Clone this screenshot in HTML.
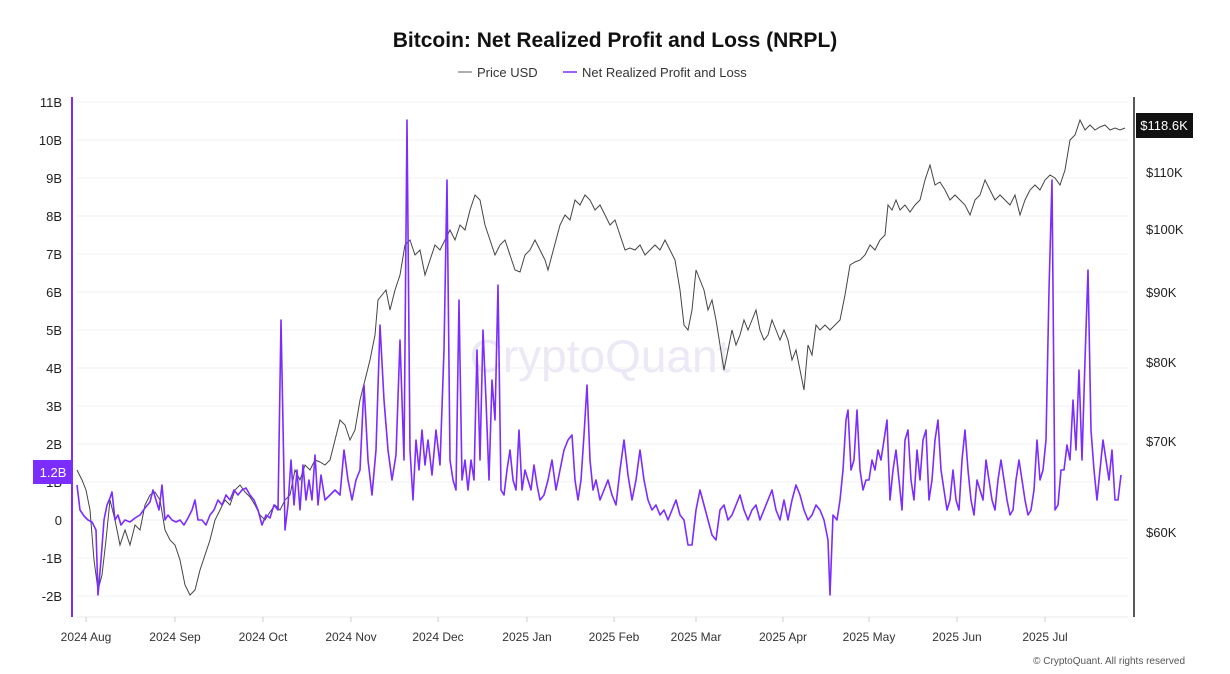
<!DOCTYPE html>
<html><head><meta charset="utf-8"><style>
body{margin:0;background:#fff;font-family:"Liberation Sans",sans-serif;}
svg{display:block}
</style></head><body>
<svg width="1230" height="674" viewBox="0 0 1230 674" font-family="Liberation Sans, sans-serif">
<rect width="1230" height="674" fill="#fff"/>
<text x="615" y="47" text-anchor="middle" font-size="21" font-weight="bold" fill="#111">Bitcoin: Net Realized Profit and Loss (NRPL)</text>
<line x1="458" y1="72" x2="472" y2="72" stroke="#777" stroke-width="1.2"/>
<text x="477" y="77" font-size="13" fill="#333">Price USD</text>
<line x1="563" y1="72" x2="577" y2="72" stroke="#7b2cff" stroke-width="1.5"/>
<text x="582" y="77" font-size="13" fill="#333">Net Realized Profit and Loss</text>
<g stroke="#f2f2f5" stroke-width="1">
<line x1="76" y1="102" x2="1128" y2="102"/><line x1="76" y1="140" x2="1128" y2="140"/><line x1="76" y1="178" x2="1128" y2="178"/><line x1="76" y1="216" x2="1128" y2="216"/><line x1="76" y1="254" x2="1128" y2="254"/><line x1="76" y1="292" x2="1128" y2="292"/><line x1="76" y1="330" x2="1128" y2="330"/><line x1="76" y1="368" x2="1128" y2="368"/><line x1="76" y1="406" x2="1128" y2="406"/><line x1="76" y1="444" x2="1128" y2="444"/><line x1="76" y1="482" x2="1128" y2="482"/><line x1="76" y1="520" x2="1128" y2="520"/><line x1="76" y1="558" x2="1128" y2="558"/><line x1="76" y1="596" x2="1128" y2="596"/>
</g>
<line x1="76" y1="617" x2="1128" y2="617" stroke="#e8e8ee"/>
<g font-size="13" fill="#222" text-anchor="end">
<text x="62" y="107">11B</text><text x="62" y="145">10B</text><text x="62" y="183">9B</text><text x="62" y="221">8B</text><text x="62" y="259">7B</text><text x="62" y="297">6B</text><text x="62" y="335">5B</text><text x="62" y="373">4B</text><text x="62" y="411">3B</text><text x="62" y="449">2B</text><text x="62" y="487">1B</text><text x="62" y="525">0</text><text x="62" y="563">-1B</text><text x="62" y="601">-2B</text>
</g>
<rect x="33" y="460" width="39" height="24" fill="#7b2cff"/>
<text x="53" y="477" text-anchor="middle" font-size="13" fill="#fff">1.2B</text>
<line x1="72" y1="97" x2="72" y2="617" stroke="#7b2cff" stroke-width="2"/>
<line x1="1134" y1="97" x2="1134" y2="617" stroke="#222" stroke-width="1.5"/>
<g font-size="13" fill="#222">
<text x="1146" y="177">$110K</text><text x="1146" y="234">$100K</text><text x="1146" y="297">$90K</text><text x="1146" y="367">$80K</text><text x="1146" y="446">$70K</text><text x="1146" y="537">$60K</text>
</g>
<rect x="1136" y="113" width="57" height="25" fill="#111"/>
<text x="1164" y="130" text-anchor="middle" font-size="13" fill="#fff">$118.6K</text>
<text x="600" y="372" text-anchor="middle" font-size="46" fill="#ece8f5">CryptoQuant</text>
<g font-size="12" fill="#333" text-anchor="middle">
<text x="86" y="641">2024 Aug</text><text x="175" y="641">2024 Sep</text><text x="263" y="641">2024 Oct</text><text x="351" y="641">2024 Nov</text><text x="438" y="641">2024 Dec</text><text x="527" y="641">2025 Jan</text><text x="614" y="641">2025 Feb</text><text x="696" y="641">2025 Mar</text><text x="783" y="641">2025 Apr</text><text x="869" y="641">2025 May</text><text x="957" y="641">2025 Jun</text><text x="1045" y="641">2025 Jul</text>
</g>
<g stroke="#ccc"><line x1="86" y1="617" x2="86" y2="622"/><line x1="175" y1="617" x2="175" y2="622"/><line x1="263" y1="617" x2="263" y2="622"/><line x1="351" y1="617" x2="351" y2="622"/><line x1="438" y1="617" x2="438" y2="622"/><line x1="527" y1="617" x2="527" y2="622"/><line x1="614" y1="617" x2="614" y2="622"/><line x1="696" y1="617" x2="696" y2="622"/><line x1="783" y1="617" x2="783" y2="622"/><line x1="869" y1="617" x2="869" y2="622"/><line x1="957" y1="617" x2="957" y2="622"/><line x1="1045" y1="617" x2="1045" y2="622"/></g>
<text x="1185" y="664" text-anchor="end" font-size="10" fill="#555">© CryptoQuant. All rights reserved</text>
<polyline fill="none" stroke="#444" stroke-width="1" points="77,470 82,480 86,490 90,510 94,560 98,590 102,575 106,540 110,500 115,520 120,545 125,530 130,545 135,525 140,530 145,505 150,495 155,492 160,500 165,530 170,540 175,545 180,560 185,585 190,595 195,590 200,570 205,555 210,540 215,520 220,510 225,500 230,505 235,490 240,485 245,492 250,497 255,505 260,515 265,520 270,512 275,505 280,510 285,500 290,495 295,470 300,480 305,465 310,470 315,460 320,462 325,465 330,460 335,440 340,420 345,425 350,440 355,430 360,400 365,380 370,360 375,335 378,300 382,295 386,290 390,310 395,290 400,275 405,245 410,240 415,255 420,250 425,275 430,260 435,245 440,250 445,240 450,230 455,240 460,225 465,230 470,210 475,195 480,200 485,225 490,240 495,255 500,245 505,240 510,255 515,270 520,272 525,255 530,250 535,240 540,250 545,260 548,270 552,255 556,240 560,225 565,215 570,220 575,200 580,205 585,195 590,200 595,210 600,205 605,215 610,225 615,220 620,235 625,250 630,248 635,250 640,245 645,255 650,250 655,245 660,250 665,240 670,250 675,260 680,290 684,325 688,330 692,310 696,270 700,280 704,290 708,310 712,300 716,320 720,345 724,370 728,350 732,330 736,345 740,335 744,320 748,330 752,320 756,310 760,330 764,340 768,335 772,320 776,330 780,340 784,330 788,340 792,360 796,350 800,370 804,390 808,345 812,355 816,325 820,330 825,325 830,330 835,325 840,320 845,295 850,265 855,262 860,260 865,255 870,245 875,250 880,240 885,235 888,205 892,210 896,200 900,210 905,205 910,212 915,205 920,200 925,180 930,165 935,185 940,182 945,190 950,200 955,195 960,200 965,205 970,215 975,200 980,195 985,180 990,190 995,200 1000,195 1005,200 1010,205 1015,195 1020,215 1025,200 1030,190 1035,185 1040,190 1045,180 1050,175 1055,178 1060,185 1065,170 1070,140 1075,135 1080,120 1085,130 1090,125 1095,130 1100,127 1105,125 1110,130 1115,128 1120,130 1125,128"/>
<polyline fill="none" stroke="#7b2cff" stroke-width="1.6" stroke-linejoin="round" points="77,485 80,510 84,516 88,520 92,522 96,530 98,595 101,560 104,520 107,505 110,498 112,492 115,520 118,515 121,525 125,520 130,522 135,518 140,515 145,508 150,502 153,490 156,500 159,510 162,485 165,520 168,515 172,520 176,522 180,520 184,525 188,518 192,510 195,500 198,520 202,520 206,525 210,515 214,510 218,500 222,505 226,495 230,500 234,490 238,495 242,490 246,488 250,495 254,500 258,510 262,525 266,515 270,518 274,505 278,510 281,320 285,530 288,505 291,460 294,505 297,470 300,510 303,465 306,500 309,480 312,500 315,455 318,505 321,475 325,500 330,495 335,490 340,495 344,450 348,480 352,500 356,480 360,470 364,385 368,460 372,495 376,450 380,325 384,400 388,450 392,480 396,455 400,340 404,460 407,120 410,450 413,500 416,440 419,470 422,430 425,465 428,440 432,475 436,430 440,465 444,350 447,180 450,460 453,480 456,490 459,300 462,480 465,460 468,490 471,460 474,480 477,350 480,460 483,330 486,400 489,480 492,380 495,420 498,285 501,490 504,495 507,470 510,450 513,480 516,490 519,430 522,490 525,470 528,480 531,490 534,465 537,485 540,500 544,495 548,480 552,460 556,490 560,470 564,450 568,440 572,435 575,480 578,500 581,480 584,435 587,385 590,460 593,490 596,480 600,500 604,490 608,480 612,495 616,505 620,470 624,440 628,475 632,500 636,480 640,450 644,480 648,500 652,510 656,505 660,515 664,510 668,520 672,510 676,500 680,515 684,520 688,545 692,545 696,510 700,490 704,505 708,520 712,535 716,540 720,510 724,505 728,520 732,515 736,505 740,495 744,510 748,520 752,510 756,505 760,520 764,510 768,500 772,490 776,510 780,520 784,500 788,520 792,500 796,485 800,495 804,510 808,520 812,515 816,505 820,510 824,520 828,540 830,595 833,515 837,520 840,500 843,470 846,420 848,410 851,470 854,460 857,410 860,470 863,490 866,480 869,480 872,460 875,470 878,450 881,460 884,440 887,420 890,500 893,470 896,450 899,480 902,510 905,440 908,430 911,480 914,500 917,450 920,480 923,440 926,430 929,500 932,480 935,440 938,420 941,470 944,490 947,510 950,500 953,470 956,500 959,510 962,460 965,430 968,470 971,500 974,515 977,480 980,490 983,500 986,460 989,480 992,500 995,510 998,480 1001,460 1004,480 1007,500 1010,515 1013,510 1016,480 1019,460 1022,480 1025,500 1028,515 1031,510 1034,490 1037,440 1040,480 1043,470 1046,440 1049,290 1052,180 1055,510 1058,505 1061,470 1064,470 1067,445 1070,460 1073,400 1076,450 1079,370 1082,460 1085,360 1088,270 1091,430 1094,470 1097,500 1100,470 1103,440 1106,460 1109,480 1112,450 1115,500 1118,500 1121,475"/>
</svg>
</body></html>
